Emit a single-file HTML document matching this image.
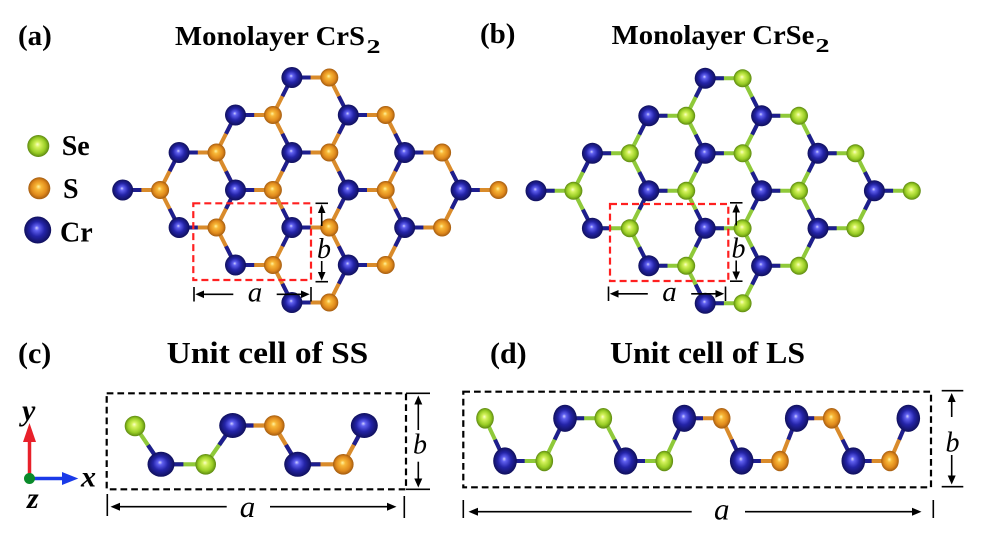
<!DOCTYPE html>
<html><head><meta charset="utf-8"><style>
html,body{margin:0;padding:0;background:#fff;}
svg{display:block;}
text{font-family:"Liberation Serif","Times New Roman",serif;fill:#000;}
.b{font-weight:bold;}
.i{font-style:italic;}
</style></head><body>
<svg width="1000" height="545" viewBox="0 0 1000 545" xmlns="http://www.w3.org/2000/svg">
<defs>
<radialGradient id="gcr" cx="0.5" cy="0.5" r="0.5" fx="0.46" fy="0.42">
<stop offset="0" stop-color="#d0d0ff"/><stop offset="0.18" stop-color="#6060f0"/><stop offset="0.55" stop-color="#2424a8"/><stop offset="1" stop-color="#10105c"/>
</radialGradient>
<radialGradient id="gs" cx="0.5" cy="0.5" r="0.5" fx="0.46" fy="0.42">
<stop offset="0" stop-color="#fff4a0"/><stop offset="0.25" stop-color="#f8b838"/><stop offset="0.7" stop-color="#e08a1c"/><stop offset="1" stop-color="#a45c10"/>
</radialGradient>
<radialGradient id="gse" cx="0.5" cy="0.5" r="0.5" fx="0.46" fy="0.42">
<stop offset="0" stop-color="#fbffc8"/><stop offset="0.25" stop-color="#d4f25c"/><stop offset="0.7" stop-color="#98cc24"/><stop offset="1" stop-color="#5c8810"/>
</radialGradient>
<circle id="cr" r="10.5" fill="url(#gcr)"/>
<circle id="s" r="9" fill="url(#gs)"/>
<circle id="se" r="9" fill="url(#gse)"/>
<ellipse id="crc" rx="13.5" ry="12.5" fill="url(#gcr)"/>
<circle id="sc" r="10.3" fill="url(#gs)"/>
<circle id="sec" r="10.3" fill="url(#gse)"/>
<ellipse id="crd" rx="11.8" ry="13.6" fill="url(#gcr)"/>
<ellipse id="sd" rx="8.8" ry="10.3" fill="url(#gs)"/>
<ellipse id="sed" rx="8.8" ry="10.3" fill="url(#gse)"/>
<path id="fullb" fill="none" d="M169.2 0h37.4 M112.8 37.5h37.4 M225.6 37.5h37.4 M56.4 75h37.4 M169.2 75h37.4 M282 75h37.4 M0 112.5h37.4 M112.8 112.5h37.4 M225.6 112.5h37.4 M338.4 112.5h37.4 M56.4 150h37.4 M169.2 150h37.4 M282 150h37.4 M112.8 187.5h37.4 M225.6 187.5h37.4 M169.2 225h37.4
M169.2 0l-19 37.5 M112.8 37.5l-19 37.5 M225.6 37.5l-19 37.5 M56.4 75l-19 37.5 M169.2 75l-19 37.5 M282 75l-19 37.5 M112.8 112.5l-19 37.5 M225.6 112.5l-19 37.5 M338.4 112.5l-19 37.5 M169.2 150l-19 37.5 M282 150l-19 37.5 M225.6 187.5l-19 37.5
M206.6 0l19 37.5 M150.2 37.5l19 37.5 M263 37.5l19 37.5 M93.8 75l19 37.5 M206.6 75l19 37.5 M319.4 75l19 37.5 M37.4 112.5l19 37.5 M150.2 112.5l19 37.5 M263 112.5l19 37.5 M93.8 150l19 37.5 M206.6 150l19 37.5 M150.2 187.5l19 37.5"/>
<path id="halfb" fill="none" d="M169.2 0h18.7 M112.8 37.5h18.7 M225.6 37.5h18.7 M56.4 75h18.7 M169.2 75h18.7 M282 75h18.7 M0 112.5h18.7 M112.8 112.5h18.7 M225.6 112.5h18.7 M338.4 112.5h18.7 M56.4 150h18.7 M169.2 150h18.7 M282 150h18.7 M112.8 187.5h18.7 M225.6 187.5h18.7 M169.2 225h18.7
M169.2 0l-9.5 18.75 M112.8 37.5l-9.5 18.75 M225.6 37.5l-9.5 18.75 M56.4 75l-9.5 18.75 M169.2 75l-9.5 18.75 M282 75l-9.5 18.75 M112.8 112.5l-9.5 18.75 M225.6 112.5l-9.5 18.75 M338.4 112.5l-9.5 18.75 M169.2 150l-9.5 18.75 M282 150l-9.5 18.75 M225.6 187.5l-9.5 18.75
M225.6 37.5l-9.5 -18.75 M169.2 75l-9.5 -18.75 M282 75l-9.5 -18.75 M112.8 112.5l-9.5 -18.75 M225.6 112.5l-9.5 -18.75 M338.4 112.5l-9.5 -18.75 M56.4 150l-9.5 -18.75 M169.2 150l-9.5 -18.75 M282 150l-9.5 -18.75 M112.8 187.5l-9.5 -18.75 M225.6 187.5l-9.5 -18.75 M169.2 225l-9.5 -18.75"/>
<g id="crs">
<use href="#cr" x="169.2" y="0"/><use href="#cr" x="112.8" y="37.5"/><use href="#cr" x="225.6" y="37.5"/>
<use href="#cr" x="56.4" y="75"/><use href="#cr" x="169.2" y="75"/><use href="#cr" x="282" y="75"/>
<use href="#cr" x="0" y="112.5"/><use href="#cr" x="112.8" y="112.5"/><use href="#cr" x="225.6" y="112.5"/><use href="#cr" x="338.4" y="112.5"/>
<use href="#cr" x="56.4" y="150"/><use href="#cr" x="169.2" y="150"/><use href="#cr" x="282" y="150"/>
<use href="#cr" x="112.8" y="187.5"/><use href="#cr" x="225.6" y="187.5"/>
<use href="#cr" x="169.2" y="225"/>
</g>
</defs>

<rect width="1000" height="545" fill="#fff"/>

<!-- Titles -->
<text class="b" x="18" y="45" font-size="29">(a)</text>
<text class="b" x="175" y="45" font-size="27" textLength="190" lengthAdjust="spacingAndGlyphs">Monolayer CrS</text>
<text class="b" x="366.5" y="53" font-size="20" textLength="14" lengthAdjust="spacingAndGlyphs">2</text>
<text class="b" x="480" y="43" font-size="29">(b)</text>
<text class="b" x="611.7" y="44" font-size="27" textLength="202.7" lengthAdjust="spacingAndGlyphs">Monolayer CrSe</text>
<text class="b" x="815.5" y="52" font-size="20" textLength="14" lengthAdjust="spacingAndGlyphs">2</text>

<!-- Legend -->
<circle cx="38.3" cy="146" r="11" fill="url(#gse)"/>
<circle cx="39.3" cy="188.3" r="11" fill="url(#gs)"/>
<circle cx="37.7" cy="230" r="13.5" fill="url(#gcr)"/>
<text class="b" x="61.7" y="155" font-size="28">Se</text>
<text class="b" x="63" y="198" font-size="28">S</text>
<text class="b" x="60" y="241.5" font-size="28">Cr</text>

<!-- Panel a lattice -->
<g transform="translate(122.7,77.5)">
<use href="#fullb" stroke="#d98b2b" stroke-width="4"/>
<use href="#halfb" stroke="#1e1e8e" stroke-width="4"/>
<use href="#crs"/>
<use href="#s" x="206.6" y="0"/><use href="#s" x="150.2" y="37.5"/><use href="#s" x="263" y="37.5"/>
<use href="#s" x="93.8" y="75"/><use href="#s" x="206.6" y="75"/><use href="#s" x="319.4" y="75"/>
<use href="#s" x="37.4" y="112.5"/><use href="#s" x="150.2" y="112.5"/><use href="#s" x="263" y="112.5"/><use href="#s" x="375.8" y="112.5"/>
<use href="#s" x="93.8" y="150"/><use href="#s" x="206.6" y="150"/><use href="#s" x="319.4" y="150"/>
<use href="#s" x="150.2" y="187.5"/><use href="#s" x="263" y="187.5"/>
<use href="#s" x="206.6" y="225"/>
</g>

<!-- Panel b lattice -->
<g transform="translate(536,78.3)">
<use href="#fullb" stroke="#8fc93a" stroke-width="4"/>
<use href="#halfb" stroke="#1e1e8e" stroke-width="4"/>
<use href="#crs"/>
<use href="#se" x="206.6" y="0"/><use href="#se" x="150.2" y="37.5"/><use href="#se" x="263" y="37.5"/>
<use href="#se" x="93.8" y="75"/><use href="#se" x="206.6" y="75"/><use href="#se" x="319.4" y="75"/>
<use href="#se" x="37.4" y="112.5"/><use href="#se" x="150.2" y="112.5"/><use href="#se" x="263" y="112.5"/><use href="#se" x="375.8" y="112.5"/>
<use href="#se" x="93.8" y="150"/><use href="#se" x="206.6" y="150"/><use href="#se" x="319.4" y="150"/>
<use href="#se" x="150.2" y="187.5"/><use href="#se" x="263" y="187.5"/>
<use href="#se" x="206.6" y="225"/>
</g>

<!-- Red dashed boxes -->
<rect x="193.3" y="203.3" width="117.7" height="76.7" fill="none" stroke="#ff2020" stroke-width="2.2" stroke-dasharray="7 4"/>
<rect x="610" y="204" width="118.3" height="77" fill="none" stroke="#ff2020" stroke-width="2.2" stroke-dasharray="7 4"/>

<!-- Dimension marks panel a -->
<g stroke="#000" stroke-width="1.6" fill="#000">
<line x1="315.5" y1="203.3" x2="328" y2="203.3"/>
<line x1="321.7" y1="210" x2="321.7" y2="226"/>
<polygon stroke="none" points="321.7,204.3 317.9,213 325.5,213"/>
<line x1="321.7" y1="261" x2="321.7" y2="274"/>
<polygon stroke="none" points="321.7,280.8 317.9,272 325.5,272"/>
<line x1="315.5" y1="281.7" x2="328" y2="281.7"/>
<line x1="194" y1="287" x2="194" y2="301.5"/>
<line x1="202" y1="294.3" x2="233.3" y2="294.3"/>
<polygon stroke="none" points="195.3,294.3 204,290.5 204,298.1"/>
<line x1="276.7" y1="294.3" x2="302" y2="294.3"/>
<polygon stroke="none" points="309.7,294.3 301,290.5 301,298.1"/>
<line x1="311" y1="287" x2="311" y2="301.5"/>
<text class="i" x="324" y="258" font-size="28" stroke="none" text-anchor="middle">b</text>
<text class="i" x="255" y="301.5" font-size="29" stroke="none" text-anchor="middle">a</text>
</g>
<g transform="translate(414.5,-0.5)" stroke="#000" stroke-width="1.6" fill="#000">
<line x1="315.5" y1="203.3" x2="328" y2="203.3"/>
<line x1="321.7" y1="210" x2="321.7" y2="226"/>
<polygon stroke="none" points="321.7,204.3 317.9,213 325.5,213"/>
<line x1="321.7" y1="261" x2="321.7" y2="274"/>
<polygon stroke="none" points="321.7,280.8 317.9,272 325.5,272"/>
<line x1="315.5" y1="281.7" x2="328" y2="281.7"/>
<line x1="194" y1="287" x2="194" y2="301.5"/>
<line x1="202" y1="294.3" x2="233.3" y2="294.3"/>
<polygon stroke="none" points="195.3,294.3 204,290.5 204,298.1"/>
<line x1="276.7" y1="294.3" x2="302" y2="294.3"/>
<polygon stroke="none" points="309.7,294.3 301,290.5 301,298.1"/>
<line x1="311" y1="287" x2="311" y2="301.5"/>
<text class="i" x="324" y="258" font-size="28" stroke="none" text-anchor="middle">b</text>
<text class="i" x="255" y="301.5" font-size="29" stroke="none" text-anchor="middle">a</text>
</g>

<!-- Bottom titles -->
<text class="b" x="18" y="363" font-size="30">(c)</text>
<text class="b" x="166.7" y="363" font-size="31" textLength="201.6" lengthAdjust="spacingAndGlyphs">Unit cell of SS</text>
<text class="b" x="490" y="363" font-size="30">(d)</text>
<text class="b" x="610" y="363" font-size="31" textLength="195" lengthAdjust="spacingAndGlyphs">Unit cell of LS</text>

<!-- Axes -->
<line x1="29.5" y1="478" x2="29.5" y2="440" stroke="#e8202a" stroke-width="3.5"/>
<polygon points="29.5,423 23,442 36,442" fill="#e8202a"/>
<line x1="30" y1="478.5" x2="63" y2="478.5" stroke="#1a3ae8" stroke-width="3.5"/>
<polygon points="78.3,478.5 62,472 62,485" fill="#1a3ae8"/>
<circle cx="29.5" cy="478.5" r="5.5" fill="#0a8a2a"/>
<text class="b i" x="22" y="420" font-size="30">y</text>
<text class="b i" x="81" y="486.7" font-size="30">x</text>
<text class="b i" x="27" y="508" font-size="30">z</text>

<!-- Panel c -->
<rect x="106.7" y="393.3" width="299.3" height="96" fill="none" stroke="#000" stroke-width="2.2" stroke-dasharray="6.7 4"/>
<path d="M135 426 L161 464.3 L205.7 464.3 L232.7 425.5" fill="none" stroke="#8fc93a" stroke-width="4.2"/>
<path d="M232.7 425.5 L274.3 425.5 L297.7 464.3 L343.3 464.3 L364.3 425.5" fill="none" stroke="#d98b2b" stroke-width="4.2"/>
<path d="M148 445.2 L161 464.3 L183.4 464.3 M219.2 444.9 L232.7 425.5 L253.5 425.5 M286 444.9 L297.7 464.3 L320.5 464.3 M353.8 444.9 L364.3 425.5" fill="none" stroke="#1e1e8e" stroke-width="4.2"/>
<use href="#sec" x="135" y="426"/>
<use href="#crc" x="161" y="464.3"/>
<use href="#sec" x="205.7" y="464.3"/>
<use href="#crc" x="232.7" y="425.5"/>
<use href="#sc" x="274.3" y="425.5"/>
<use href="#crc" x="297.7" y="464.3"/>
<use href="#sc" x="343.3" y="464.3"/>
<use href="#crc" x="364.3" y="425.5"/>
<g stroke="#000" stroke-width="1.6" fill="#000">
<line x1="406" y1="393.3" x2="430" y2="393.3"/>
<line x1="418.3" y1="402" x2="418.3" y2="430"/>
<polygon stroke="none" points="418.3,395.5 414.3,404.5 422.3,404.5"/>
<line x1="418.3" y1="461.7" x2="418.3" y2="480"/>
<polygon stroke="none" points="418.3,487.5 414.3,478.5 422.3,478.5"/>
<line x1="406" y1="489.3" x2="430" y2="489.3"/>
<line x1="107.3" y1="494" x2="107.3" y2="516"/>
<line x1="119" y1="506.7" x2="226.7" y2="506.7"/>
<polygon stroke="none" points="110.5,506.7 120,502.7 120,510.7"/>
<line x1="270" y1="506.7" x2="388" y2="506.7"/>
<polygon stroke="none" points="396.5,506.7 387,502.7 387,510.7"/>
<line x1="404.3" y1="496" x2="404.3" y2="518"/>
<text class="i" x="420" y="453.3" font-size="28" stroke="none" text-anchor="middle">b</text>
<text class="i" x="247.5" y="517" font-size="31" stroke="none" text-anchor="middle">a</text>
</g>

<!-- Panel d -->
<rect x="463.3" y="391.7" width="467.7" height="95.6" fill="none" stroke="#000" stroke-width="2.2" stroke-dasharray="6.7 4"/>
<path d="M485 418.3 L505 461 L544.3 461 L565 418.3 L603.3 418.3 L625.7 461 L664.3 461 L684.3 418.3" fill="none" stroke="#8fc93a" stroke-width="4"/>
<path d="M684.3 418.3 L721.7 418.3 L741.7 461 L780 461 L796.7 418.3 L831.7 418.3 L853.3 461 L890 461 L908.3 418.3" fill="none" stroke="#d98b2b" stroke-width="4"/>
<path d="M495 439.65 L505 461 L524.65 461 M554.65 439.65 L565 418.3 L584.15 418.3 M614.5 439.65 L625.7 461 L645 461 M674.3 439.65 L684.3 418.3 L703 418.3 M731.7 439.65 L741.7 461 L760.85 461 M788.35 439.65 L796.7 418.3 L814.2 418.3 M842.5 439.65 L853.3 461 L871.65 461 M899.15 439.65 L908.3 418.3" fill="none" stroke="#1e1e8e" stroke-width="4"/>
<use href="#sed" x="485" y="418.3"/>
<use href="#crd" x="505" y="461"/>
<use href="#sed" x="544.3" y="461"/>
<use href="#crd" x="565" y="418.3"/>
<use href="#sed" x="603.3" y="418.3"/>
<use href="#crd" x="625.7" y="461"/>
<use href="#sed" x="664.3" y="461"/>
<use href="#crd" x="684.3" y="418.3"/>
<use href="#sd" x="721.7" y="418.3"/>
<use href="#crd" x="741.7" y="461"/>
<use href="#sd" x="780" y="461"/>
<use href="#crd" x="796.7" y="418.3"/>
<use href="#sd" x="831.7" y="418.3"/>
<use href="#crd" x="853.3" y="461"/>
<use href="#sd" x="890" y="461"/>
<use href="#crd" x="908.3" y="418.3"/>
<g stroke="#000" stroke-width="1.6" fill="#000">
<line x1="941.7" y1="390.7" x2="963.3" y2="390.7"/>
<line x1="951.7" y1="400" x2="951.7" y2="417"/>
<polygon stroke="none" points="951.7,393 947.7,402 955.7,402"/>
<line x1="951.7" y1="455" x2="951.7" y2="477"/>
<polygon stroke="none" points="951.7,484.5 947.7,475.5 955.7,475.5"/>
<line x1="941.7" y1="486.7" x2="963.3" y2="486.7"/>
<line x1="463.3" y1="500" x2="463.3" y2="518"/>
<line x1="477" y1="511.7" x2="691.7" y2="511.7"/>
<polygon stroke="none" points="468.5,511.7 478,507.7 478,515.7"/>
<line x1="745" y1="511.7" x2="913" y2="511.7"/>
<polygon stroke="none" points="921.5,511.7 912,507.7 912,515.7"/>
<line x1="933.3" y1="500" x2="933.3" y2="518"/>
<text class="i" x="952.5" y="451.7" font-size="28" stroke="none" text-anchor="middle">b</text>
<text class="i" x="721.7" y="519.3" font-size="31" stroke="none" text-anchor="middle">a</text>
</g>
</svg>
</body></html>
